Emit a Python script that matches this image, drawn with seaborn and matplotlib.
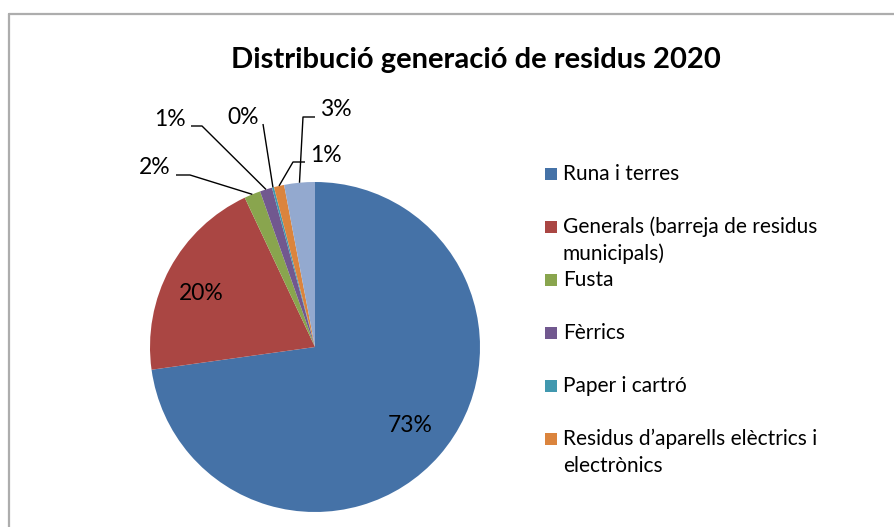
import matplotlib
matplotlib.use("Agg")
import matplotlib.pyplot as plt
import seaborn as sns
import numpy as np
from matplotlib.patches import Rectangle
from matplotlib.lines import Line2D

# ---- data ----
categories = ["Runa i terres", "Generals (barreja de residus\nmunicipals)", "Fusta",
              "Fèrrics", "Paper i cartró", "Residus d\u2019aparells elèctrics i\nelectrònics", "Altres"]
values = [72.8, 20.2, 1.6, 1.2, 0.2, 1.0, 3.0]
pct_labels = ["73%", "20%", "2%", "1%", "0%", "1%", "3%"]
colors = ["#4572A7", "#AA4643", "#89A54E", "#71588F", "#4198AF", "#DB843D", "#93A9CF"]
legend_count = 6  # only the first six fit in the legend box

sns.set_theme(style="white")
plt.rcParams["font.family"] = ["Lato", "DejaVu Sans"]

W, H, DPI = 894, 527, 100
fig = plt.figure(figsize=(W / DPI, H / DPI), dpi=DPI)
fig.patch.set_facecolor("white")

# pie axes: center (315,347) px, radius 165 px
cx, cy, r = 315, 347, 165
ax = fig.add_axes([(cx - r) / W, (H - cy - r) / H, 2 * r / W, 2 * r / H])
wedges, _ = ax.pie(values, colors=colors, startangle=90, counterclock=False,
                   radius=1.0, wedgeprops=dict(linewidth=0))
ax.set_xlim(-1, 1)
ax.set_ylim(-1, 1)
ax.set_aspect("auto")
ax.axis("off")

def px2d(px, py):
    return (px - cx) / r, (cy - py) / r

# inside labels
inside = {0: (410, 426), 1: (201, 293)}
# outside labels: text pos, elbow points (px)
outside = {
    2: ((155, 168), [(176, 175), (190, 175)]),
    3: ((170, 120), [(191, 126), (202, 126)]),
    4: ((243, 117), [(263, 124)]),
    5: ((326, 155), [(305, 162), (293, 162)]),
    6: ((336, 110), [(315, 117), (303, 117)]),
}
fs_lab = 16.5
for i, (px, py) in inside.items():
    x, y = px2d(px, py)
    ax.text(x, y, pct_labels[i], ha="center", va="center", fontsize=fs_lab, color="black")
for i, ((px, py), elbows) in outside.items():
    x, y = px2d(px, py)
    ax.text(x, y, pct_labels[i], ha="center", va="center", fontsize=fs_lab, color="black")
    w = wedges[i]
    ang = np.deg2rad((w.theta1 + w.theta2) / 2)
    ax_, ay_ = np.cos(ang) * 1.0, np.sin(ang) * 1.0
    pts = [px2d(*p) for p in elbows] + [(ax_, ay_)]
    xs, ys = zip(*pts)
    ax.plot(xs, ys, color="black", lw=1.0, clip_on=False, solid_capstyle="butt")

# title
fig.text(476 / W, 1 - 60 / H, "Distribució generació de residus 2020", ha="center", va="center",
         fontsize=21, fontweight="bold", color="black")

# legend (manual, Excel-like equal slots); y = baseline of first line in px
leg_base = [180, 233, 286, 339, 392, 445]
line_gap = 27
for i in range(legend_count):
    b = leg_base[i]
    fig.add_artist(Rectangle((545 / W, 1 - b / H), 12 / W, 12 / H,
                             transform=fig.transFigure, facecolor=colors[i], edgecolor="none"))
    for k, line in enumerate(categories[i].split("\n")):
        fig.text(563 / W, 1 - (b + k * line_gap) / H, line, ha="left", va="baseline",
                 fontsize=15, color="black")

# chart frame (partially visible)
fig.add_artist(Line2D([8.5 / W, 8.5 / W], [0, 1 - 13.5 / H], transform=fig.transFigure,
                      color="#ADADAD", lw=1.6))
fig.add_artist(Line2D([8.5 / W, 1], [1 - 13.5 / H, 1 - 13.5 / H], transform=fig.transFigure,
                      color="#ADADAD", lw=1.6))

fig.savefig("out.png", dpi=DPI, facecolor="white")
